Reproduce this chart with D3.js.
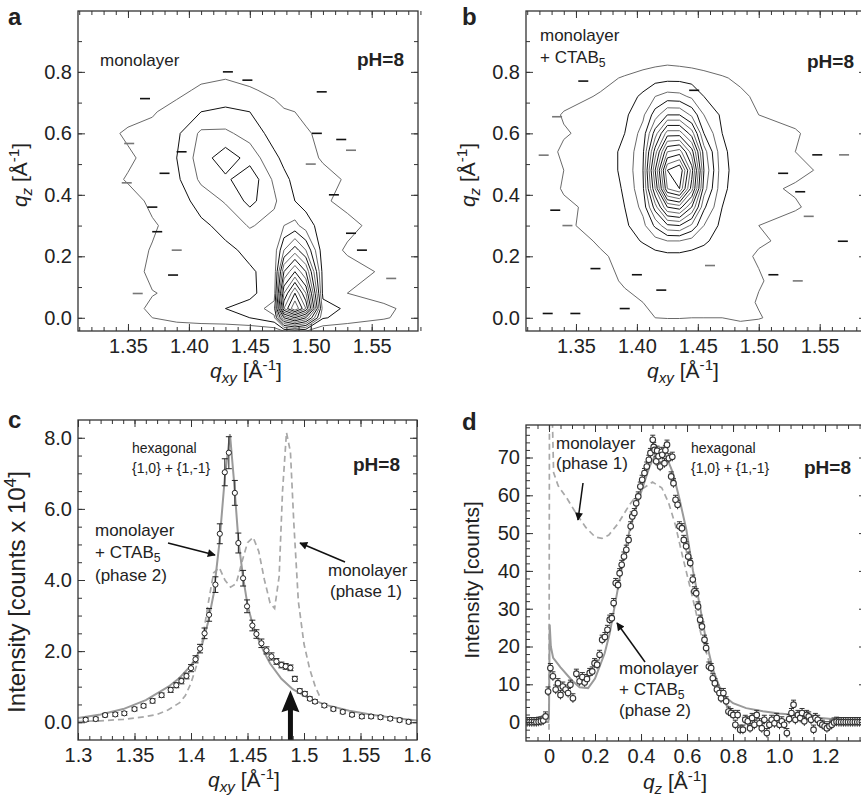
<!DOCTYPE html>
<html>
<head>
<meta charset="utf-8">
<script src="https://cdn.jsdelivr.net/npm/d3@7"></script>
<style>
  body { margin: 0; background: #fff; }
  svg { display: block; }
  text { font-family: "Liberation Sans", Arial, Helvetica, sans-serif; fill: #222; }
</style>
</head>
<body>
<div id="chart"></div>
<script>
// ---------- panel a : intensity map, monolayer (rows from bottom qz to top) ----------
const gridQxyA = [1.31, 1.35, 1.37, 1.39, 1.41, 1.43, 1.45, 1.47, 1.478, 1.487, 1.496, 1.51, 1.53, 1.56, 1.60];
const gridQzA = [-0.05, 0.0, 0.03, 0.08, 0.15, 0.22, 0.30, 0.38, 0.45, 0.52, 0.60, 0.67, 0.74, 0.80, 1.0];
const mapA = [
  [0, 0,   0,    0,   0,   0,   0,   0,   0,   0,   0,   0,   0,   0,   0  ],
  [0, 0.5, 1.0,  1.4, 1.6, 1.7, 2.0, 2.8, 8,   10,  8,   2.1, 1.6, 1.1, 0.3],
  [0, 0.6, 1.2,  1.6, 1.9, 2.0, 2.3, 3.5, 13,  16,  13,  2.5, 1.8, 1.2, 0.4],
  [0, 0.9, 0.95, 1.2, 1.3, 1.5, 1.8, 2.5, 11,  14,  11,  1.7, 1.0, 0.6, 0  ],
  [0, 0.4, 1.3,  1.2, 1.3, 1.5, 1.9, 2.3, 8,   10,  8,   1.6, 1.3, 0.9, 0  ],
  [0, 0.7, 1.05, 1.2, 1.4, 1.8, 2.2, 2.4, 5,   6.5, 5,   1.4, 0.9, 0.5, 0  ],
  [0, 0.3, 0.9,  1.3, 1.8, 2.3, 3.1, 2.6, 3.0, 3.3, 2.5, 1.5, 1.2, 0.7, 0  ],
  [0, 0.6, 1.2,  1.5, 2.4, 3.1, 4.3, 3.2, 2.4, 2.0, 1.6, 1.1, 0.8, 0.2, 0  ],
  [0, 1.1, 1.3,  1.8, 3.2, 3.8, 4.7, 2.8, 2.2, 1.8, 1.5, 1.3, 0.9, 0.3, 0  ],
  [0, 0.8, 1.4,  2.0, 3.5, 4.6, 3.6, 2.2, 1.8, 1.5, 1.3, 0.9, 0.5, 0,   0  ],
  [0, 1.2, 1.3,  1.8, 3.2, 3.2, 2.6, 1.6, 1.4, 1.2, 1.1, 0.8, 0.3, 0,   0  ],
  [0, 0.5, 0.9,  1.4, 2.0, 2.2, 2.0, 1.3, 1.1, 1.0, 0.8, 0.5, 0.1, 0,   0  ],
  [0, 0.2, 0.4,  0.7, 1.2, 1.3, 1.1, 0.8, 0.5, 0.4, 0.3, 0.1, 0,   0,   0  ],
  [0, 0,   0.1,  0.3, 0.6, 0.8, 0.6, 0.3, 0.2, 0.1, 0,   0,   0,   0,   0  ],
  [0, 0,   0,    0,   0,   0,   0,   0,   0,   0,   0,   0,   0,   0,   0  ]
];
const specksA = [[1.351, 0.567], [1.364, 0.713], [1.394, 0.54], [1.349, 0.439], [1.374, 0.28],
  [1.387, 0.139], [1.358, 0.079], [1.432, 0.80], [1.519, 0.40], [1.533, 0.545], [1.533, 0.275],
  [1.542, 0.22], [1.566, 0.128], [1.509, 0.735], [1.448, 0.773], [1.50, 0.5], [1.37, 0.36],
  [1.38, 0.47], [1.39, 0.22], [1.525, 0.58], [1.505, 0.6]];

// ---------- panel b : intensity map, monolayer + CTAB5 ----------
const gridQxyB = [1.31, 1.34, 1.37, 1.39, 1.405, 1.415, 1.425, 1.435, 1.445, 1.455, 1.47, 1.485, 1.50, 1.53, 1.56, 1.60];
const gridQzB = [-0.05, 0.0, 0.05, 0.12, 0.20, 0.25, 0.30, 0.36, 0.42, 0.48, 0.54, 0.60, 0.66, 0.72, 0.78, 0.84, 1.0];
const mapB = [
  [0, 0,   0,   0,   0,   0,   0,    0,    0,    0,   0,   0,   0,   0,   0,   0],
  [0, 0.1, 0.3, 0.6, 0.9, 1.0, 1.05, 1.05, 1.0,  1.0, 1.0, 1.3, 1.1, 0.2, 0,   0],
  [0, 0.2, 0.5, 0.8, 1.0, 1.1, 1.1,  1.1,  1.1,  1.1, 1.0, 1.4, 0.9, 0.3, 0,   0],
  [0, 0.3, 0.7, 1.1, 1.1, 1.2, 1.2,  1.2,  1.2,  1.1, 1.1, 1.3, 1.1, 0.4, 0,   0],
  [0, 0.4, 0.9, 1.2, 1.4, 1.6, 1.7,  1.7,  1.6,  1.5, 1.3, 1.2, 0.9, 0.5, 0.1, 0],
  [0, 0.6, 1.1, 1.5, 2.1, 2.6, 3.0,  3.0,  2.6,  2.2, 1.5, 1.3, 1.1, 0.8, 0.2, 0],
  [0, 0.9, 1.2, 1.8, 2.7, 4.2, 5.8,  6.0,  4.8,  3.0, 1.7, 1.3, 1.0, 0.6, 0.3, 0],
  [0, 0.8, 1.3, 2.0, 3.3, 6.5, 10,   10.5, 8,    4.2, 2.0, 1.4, 1.1, 1.1, 0.5, 0],
  [0, 1.1, 1.4, 2.1, 3.8, 9,   15,   16,   11.5, 5.5, 2.2, 1.5, 1.2, 0.9, 0.6, 0],
  [0, 1.0, 1.5, 2.2, 4.0, 10,  16,   17,   12.5, 6,   2.3, 1.5, 1.2, 1.2, 0.8, 0],
  [0, 1.2, 1.5, 2.2, 3.8, 8.5, 13,   13.5, 10.5, 5.5, 2.2, 1.5, 1.2, 1.0, 0.6, 0],
  [0, 0.9, 1.4, 2.0, 3.4, 6.5, 9.5,  9.5,  7.5,  4.0, 2.0, 1.4, 1.1, 1.1, 0.4, 0],
  [0, 1.1, 1.3, 1.8, 2.8, 4.5, 6.0,  6.0,  4.8,  3.0, 1.8, 1.3, 1.0, 0.7, 0.2, 0],
  [0, 0.6, 1.1, 1.5, 2.2, 3.0, 3.4,  3.3,  2.8,  2.0, 1.6, 1.2, 0.8, 0.4, 0.1, 0],
  [0, 0.3, 0.7, 1.1, 1.4, 1.6, 1.7,  1.7,  1.6,  1.4, 1.1, 0.8, 0.5, 0.2, 0,   0],
  [0, 0,   0.2, 0.3, 0.5, 0.6, 0.7,  0.6,  0.5,  0.4, 0.3, 0.2, 0.1, 0,   0,   0],
  [0, 0,   0,   0,   0,   0,   0,    0,    0,    0,   0,   0,   0,   0,   0,   0]
];
const specksB = [[1.3235, 0.529], [1.3495, 0.014], [1.3268, 0.014], [1.3345, 0.654], [1.333, 0.35],
  [1.548, 0.53], [1.541, 0.33], [1.534, 0.41], [1.512, 0.14], [1.532, 0.12], [1.569, 0.249],
  [1.366, 0.16], [1.343, 0.30], [1.356, 0.77], [1.447, 0.74], [1.57, 0.53], [1.40, 0.14],
  [1.42, 0.09], [1.46, 0.17], [1.52, 0.47], [1.39, 0.03]];

const contourLevels = d3.range(1, 17);

// ---------- panel c : qxy cut ----------
const qxyC = [1.3068, 1.3157, 1.324, 1.333, 1.341, 1.350, 1.358, 1.366, 1.374, 1.382, 1.387, 1.3915, 1.396,
  1.400, 1.404, 1.408, 1.412, 1.416, 1.4216, 1.4255, 1.4299, 1.4335, 1.4388, 1.4419, 1.4461, 1.4496, 1.4543,
  1.4579, 1.4623, 1.4668, 1.4712, 1.4756, 1.4800, 1.4838, 1.4880, 1.4919, 1.4963, 1.5008, 1.5052, 1.5097,
  1.5180, 1.5260, 1.5343, 1.5425, 1.5512, 1.5594, 1.5677, 1.5763, 1.5846, 1.5926];
const intC = [0.07, 0.09, 0.20, 0.22, 0.25, 0.37, 0.46, 0.60, 0.76, 0.91, 1.04, 1.16, 1.30,
  1.52, 1.77, 2.07, 2.50, 3.02, 3.87, 5.30, 7.03, 7.58, 6.45, 5.04, 4.05, 3.26, 2.72,
  2.48, 2.22, 2.02, 1.85, 1.71, 1.61, 1.57, 1.53, 1.22, 0.88, 0.80, 0.66, 0.58,
  0.47, 0.37, 0.29, 0.21, 0.16, 0.16, 0.14, 0.10, 0.06, 0.01];
const errC = [0.05, 0.05, 0.05, 0.05, 0.05, 0.05, 0.05, 0.06, 0.06, 0.07, 0.07, 0.08, 0.08,
  0.10, 0.10, 0.12, 0.15, 0.18, 0.22, 0.28, 0.38, 0.45, 0.35, 0.28, 0.22, 0.18, 0.15,
  0.12, 0.12, 0.10, 0.10, 0.08, 0.08, 0.08, 0.08, 0.07, 0.06, 0.06, 0.05, 0.05,
  0.05, 0.05, 0.05, 0.05, 0.05, 0.05, 0.05, 0.05, 0.05, 0.05];
const fitQxyC = [1.30, 1.32, 1.34, 1.36, 1.38, 1.39, 1.40, 1.405, 1.41, 1.415, 1.42, 1.425, 1.43, 1.4345,
  1.438, 1.442, 1.446, 1.45, 1.455, 1.46, 1.465, 1.47, 1.48, 1.49, 1.50, 1.51, 1.52, 1.54, 1.56, 1.58, 1.60];
const fitIntC = [0.12, 0.22, 0.37, 0.62, 1.0, 1.25, 1.6, 1.85, 2.2, 2.8, 3.6, 5.0, 6.9, 8.1,
  6.8, 5.1, 4.1, 3.3, 2.7, 2.3, 1.95, 1.65, 1.22, 0.93, 0.75, 0.6, 0.48, 0.32, 0.21, 0.12, 0.05];
const phase1QxyC = [1.30, 1.32, 1.34, 1.36, 1.37, 1.38, 1.39, 1.395, 1.40, 1.405, 1.41, 1.415, 1.42, 1.425,
  1.43, 1.435, 1.44, 1.445, 1.45, 1.455, 1.46, 1.465, 1.47, 1.474, 1.478, 1.481, 1.4845, 1.488, 1.491,
  1.495, 1.50, 1.505, 1.51, 1.515];
const phase1IntC = [0.02, 0.04, 0.08, 0.16, 0.22, 0.35, 0.55, 0.75, 1.1, 1.6, 2.3, 3.3, 4.2, 4.35,
  4.0, 3.8, 3.9, 4.5, 5.05, 5.2, 4.8, 4.0, 3.35, 3.2, 4.1, 6.5, 8.15, 7.6, 5.6,
  3.4, 2.2, 1.5, 1.0, 0.65];

// ---------- panel d : qz cut ----------
const pointsD = [[-0.095, 0], [-0.085, 0], [-0.075, 0], [-0.065, 0], [-0.055, 0], [-0.045, 0.1], [-0.035, 0.2],
  [-0.025, 0.4], [-0.015, 1.5], [-0.004, 8.1], [0.006, 14.3], [0.017, 12.1], [0.029, 8.6], [0.039, 10.3],
  [0.05, 7.2], [0.06, 9.4], [0.072, 8.6], [0.083, 7.7], [0.093, 9.9], [0.104, 6.3], [0.119, 12.8],
  [0.133, 10.8], [0.145, 11.9], [0.155, 10.5], [0.165, 11.4], [0.177, 13], [0.188, 13.4], [0.198, 15.6],
  [0.209, 15.2], [0.22, 17.8], [0.231, 21.8], [0.243, 22.5], [0.254, 24.4], [0.264, 27.1], [0.273, 27.5],
  [0.281, 31.5], [0.29, 36.8], [0.3, 36.3], [0.307, 39.4], [0.316, 41.6], [0.326, 43.8], [0.336, 45.6],
  [0.346, 48.2], [0.355, 51.8], [0.362, 54.4], [0.371, 55.3], [0.379, 57.9], [0.388, 59.7], [0.397, 62.3],
  [0.405, 64.1], [0.415, 65.9], [0.425, 67.6], [0.434, 69.4], [0.441, 71.2], [0.451, 74.7], [0.455, 72.8],
  [0.459, 72.0], [0.466, 69.0], [0.47, 71.8], [0.476, 70.3], [0.483, 67.6], [0.49, 71.5], [0.492, 70.7],
  [0.502, 68.5], [0.506, 71.9], [0.513, 73.4], [0.521, 69.8], [0.531, 65], [0.536, 70.2], [0.541, 63.2],
  [0.55, 58.8], [0.559, 57.5], [0.567, 51.8], [0.578, 51.3], [0.586, 48.2], [0.596, 46.5], [0.605, 43.8],
  [0.614, 42.1], [0.625, 37.7], [0.632, 34.6], [0.64, 34.1], [0.648, 30.6], [0.657, 27.1], [0.665, 25.3],
  [0.676, 21.8], [0.683, 19.6], [0.695, 14.7], [0.705, 14.3], [0.712, 11.6], [0.721, 10.3], [0.73, 8.6],
  [0.741, 7.7], [0.748, 6.3], [0.758, 7.7], [0.77, 5.5], [0.78, 2.8], [0.791, 2.4], [0.801, 1.9],
  [0.81, -0.7], [0.82, 1.9], [0.831, -2.0], [0.843, -2.0], [0.853, 0.6], [0.864, 0.2], [0.874, -1.6],
  [0.883, 1.1], [0.893, -0.7], [0.903, 1.9], [0.915, -0.3], [0.925, -1.6], [0.936, 0.6], [0.947, -2.9],
  [0.958, -0.7], [0.968, 0.6], [0.98, -0.3], [0.99, 1.1], [1.002, -0.7], [1.012, 0.2], [1.022, -0.7],
  [1.034, -2.9], [1.044, 0.8], [1.054, 2.4], [1.063, 4.6], [1.071, 0.6], [1.082, 1.9], [1.092, 1.1],
  [1.1, 2.4], [1.11, 0.2], [1.12, 1.9], [1.129, 1.5], [1.139, 0.6], [1.15, -2.0], [1.158, 1.1],
  [1.168, 0.6], [1.178, -0.3], [1.188, -0.7], [1.198, -1.1], [1.208, -1.6], [1.219, -1.1], [1.229, -0.7],
  [1.239, -0.1], [1.25, 0.1], [1.26, 0], [1.27, 0], [1.28, 0], [1.29, 0], [1.30, 0], [1.31, 0], [1.32, 0],
  [1.33, 0], [1.34, 0], [1.35, 0], [1.36, 0], [1.37, 0]];
const errD = 1.2;
const fitD = [[-0.1, 0], [-0.003, 0], [0.0, 2], [0.003, 25.8], [0.008, 20], [0.018, 17], [0.05, 14.5],
  [0.1, 11], [0.133, 9.2], [0.17, 9.0], [0.2, 11.5], [0.242, 18.2], [0.264, 23.5], [0.293, 33.2],
  [0.322, 42.9], [0.351, 50.9], [0.38, 57], [0.408, 62.3], [0.437, 67.6], [0.46, 70.5], [0.48, 71.2],
  [0.51, 70.3], [0.539, 65.9], [0.568, 58.8], [0.597, 50.9], [0.626, 40], [0.655, 31], [0.683, 21.5],
  [0.712, 14], [0.74, 9.5], [0.77, 6.5], [0.8, 5.0], [0.857, 3.7], [0.93, 2.9], [1.0, 2.3], [1.074, 1.9],
  [1.15, 1.3], [1.25, 0.7], [1.38, 0.3]];
const phase1D = [[0.0, -2], [0.002, 82], [0.014, 82], [0.02, 66], [0.04, 62.5], [0.08, 59], [0.12, 55],
  [0.16, 51.5], [0.2, 49], [0.23, 48.6], [0.26, 49.5], [0.3, 52.5], [0.35, 57.5], [0.4, 61.5], [0.45, 63.5],
  [0.49, 62], [0.52, 58], [0.55, 52], [0.58, 44], [0.62, 34], [0.66, 23.5], [0.7, 15], [0.74, 8.5],
  [0.78, 4], [0.82, 1.8], [0.86, 0.8], [0.92, 0.4], [1.0, 0.3]];

// ---------- layout ----------
const W = 861, H = 796;
const svg = d3.select("#chart").append("svg").attr("width", W).attr("height", H);
const defs = svg.append("defs");
defs.append("marker").attr("id", "ah")
    .attr("viewBox", "0 0 10 10").attr("refX", 9).attr("refY", 5)
    .attr("markerWidth", 12).attr("markerHeight", 8)
    .attr("markerUnits", "userSpaceOnUse").attr("orient", "auto")
  .append("path").attr("d", "M0,0L10,5L0,10Z").attr("fill", "#111");

const panels = {
  a: {left: 78,  top: 11,  w: 340, h: 320},
  b: {left: 526, top: 11,  w: 340, h: 320},
  c: {left: 78,  top: 420, w: 339, h: 320},
  d: {left: 526, top: 425, w: 340, h: 316}
};

// rich text with sub / superscripts
function rich(sel, parts, size) {
  let shift = 0;
  parts.forEach(p => {
    let target = 0, fs = size;
    if (p.sub) { target = size * 0.22; fs = size * 0.72; }
    if (p.sup) { target = -size * 0.36; fs = size * 0.72; }
    const ts = sel.append("tspan").text(p.t).attr("font-size", fs).attr("dy", target - shift);
    if (p.it) ts.attr("font-style", "italic");
    shift = target;
  });
  return sel;
}

function addText(x, y, parts, size, opts = {}) {
  const t = svg.append("text").attr("x", x).attr("y", y).attr("font-size", size);
  if (opts.anchor) t.attr("text-anchor", opts.anchor);
  if (opts.bold) t.attr("font-weight", "bold");
  if (opts.rotate) t.attr("transform", `rotate(-90,${x},${y})`).attr("dy", "0.35em");
  if (typeof parts === "string") t.text(parts); else rich(t, parts, size);
  return t;
}

function setupPanel(key, xDomain, yDomain) {
  const p = panels[key];
  const g = svg.append("g").attr("transform", `translate(${p.left},${p.top})`);
  const x = d3.scaleLinear().domain(xDomain).range([0, p.w]);
  const y = d3.scaleLinear().domain(yDomain).range([p.h, 0]);
  defs.append("clipPath").attr("id", "clip-" + key)
    .append("rect").attr("width", p.w).attr("height", p.h);
  const plot = g.append("g").attr("clip-path", `url(#clip-${key})`);
  return {g, plot, x, y, p};
}

function frame(P, xt, yt) {
  const {g, x, y, p} = P;
  const style = s => { s.select(".domain").remove(); s.selectAll("line").attr("stroke", "#333");
    s.selectAll("text").attr("font-size", 20).attr("font-family", null).attr("fill", "#222"); };
  g.append("g").attr("transform", `translate(0,${p.h})`)
    .call(d3.axisBottom(x).tickValues(xt.minor).tickSize(-4).tickFormat("")).call(style);
  g.append("g").attr("transform", `translate(0,${p.h})`)
    .call(d3.axisBottom(x).tickValues(xt.major).tickSize(-7).tickPadding(8).tickFormat(xt.fmt)).call(style);
  g.append("g").call(d3.axisTop(x).tickValues(xt.minor).tickSize(-4).tickFormat("")).call(style);
  g.append("g").call(d3.axisTop(x).tickValues(xt.major).tickSize(-7).tickFormat("")).call(style);
  g.append("g").call(d3.axisLeft(y).tickValues(yt.minor).tickSize(-4).tickFormat("")).call(style);
  g.append("g").call(d3.axisLeft(y).tickValues(yt.major).tickSize(-7).tickPadding(6).tickFormat(yt.fmt)).call(style);
  g.append("g").attr("transform", `translate(${p.w},0)`)
    .call(d3.axisRight(y).tickValues(yt.minor).tickSize(-4).tickFormat("")).call(style);
  g.append("g").attr("transform", `translate(${p.w},0)`)
    .call(d3.axisRight(y).tickValues(yt.major).tickSize(-7).tickFormat("")).call(style);
  g.append("rect").attr("width", p.w).attr("height", p.h)
    .attr("fill", "none").attr("stroke", "#333").attr("stroke-width", 1.3);
}

function steps(a, b, s) {
  const out = [];
  const n = Math.round((b - a) / s);
  for (let i = 0; i <= n; i++) out.push(+(a + i * s).toFixed(4));
  return out;
}

function drawContours(P, gridX, gridY, map, levels, specks) {
  const {plot, x, y} = P;
  const nx = gridX.length, ny = gridY.length;
  const values = [];
  map.forEach(row => row.forEach(v => values.push(v)));
  const gx = d3.scaleLinear().domain(d3.range(nx)).range(gridX);
  const gy = d3.scaleLinear().domain(d3.range(ny)).range(gridY);
  const proj = d3.geoTransform({
    point(px, py) { this.stream.point(x(gx(px - 0.5)), y(gy(py - 0.5))); }
  });
  const path = d3.geoPath(proj);
  const contours = d3.contours().size([nx, ny]).thresholds(levels)(values);
  plot.selectAll("path.contour").data(contours).join("path")
    .attr("class", "contour")
    .attr("d", path)
    .attr("fill", "none")
    .attr("stroke", (d, i) => i % 2 === 0 ? "#6a6a6a" : "#111")
    .attr("stroke-width", 1);
  plot.selectAll("line.speck").data(specks).join("line")
    .attr("class", "speck")
    .attr("x1", d => x(d[0]) - 5).attr("x2", d => x(d[0]) + 5)
    .attr("y1", d => y(d[1])).attr("y2", d => y(d[1]))
    .attr("stroke", (d, i) => i % 3 === 0 ? "#777" : "#111").attr("stroke-width", 1.6);
}

// ---------- panels a, b ----------
const qxyTicks = {major: steps(1.35, 1.55, 0.05), minor: steps(1.31, 1.59, 0.01), fmt: d3.format(".2f")};
const qzTicks = {major: steps(0, 0.8, 0.2), minor: steps(0, 0.9, 0.1), fmt: d3.format(".1f")};

const A = setupPanel("a", [1.309, 1.588], [-0.043, 0.998]);
drawContours(A, gridQxyA, gridQzA, mapA, contourLevels, specksA);
frame(A, qxyTicks, qzTicks);

const B = setupPanel("b", [1.309, 1.588], [-0.043, 0.998]);
drawContours(B, gridQxyB, gridQzB, mapB, contourLevels, specksB);
frame(B, qxyTicks, qzTicks);

// ---------- panel c ----------
const C = setupPanel("c", [1.3, 1.6], [-0.5, 8.5]);
const lineC = d3.line().x(d => C.x(d[0])).y(d => C.y(d[1]));
C.plot.append("path").datum(phase1QxyC.map((q, i) => [q, phase1IntC[i]]))
  .attr("d", lineC).attr("fill", "none").attr("stroke", "#a8a8a8")
  .attr("stroke-width", 1.7).attr("stroke-dasharray", "6,4");
C.plot.append("path").datum(fitQxyC.map((q, i) => [q, fitIntC[i]]))
  .attr("d", lineC).attr("fill", "none").attr("stroke", "#9a9a9a").attr("stroke-width", 2);
const ptsC = qxyC.map((q, i) => ({q, v: intC[i], e: errC[i]}));
const ebC = C.plot.selectAll("g.eb").data(ptsC).join("g").attr("class", "eb");
ebC.append("line").attr("x1", d => C.x(d.q)).attr("x2", d => C.x(d.q))
  .attr("y1", d => C.y(d.v - d.e)).attr("y2", d => C.y(d.v + d.e)).attr("stroke", "#222");
ebC.append("line").attr("x1", d => C.x(d.q) - 3).attr("x2", d => C.x(d.q) + 3)
  .attr("y1", d => C.y(d.v + d.e)).attr("y2", d => C.y(d.v + d.e)).attr("stroke", "#222");
ebC.append("line").attr("x1", d => C.x(d.q) - 3).attr("x2", d => C.x(d.q) + 3)
  .attr("y1", d => C.y(d.v - d.e)).attr("y2", d => C.y(d.v - d.e)).attr("stroke", "#222");
C.plot.selectAll("circle").data(ptsC).join("circle")
  .attr("cx", d => C.x(d.q)).attr("cy", d => C.y(d.v)).attr("r", 2.6)
  .attr("fill", "#fff").attr("stroke", "#222").attr("stroke-width", 1);
// big arrow marking the phase 1 position
const arrowQ = 1.488, arrowTip = 0.9;
const ax0 = C.x(arrowQ), ay0 = C.y(arrowTip), ayB = C.p.h;
C.plot.append("path")
  .attr("d", `M${ax0},${ay0}L${ax0 + 9},${ay0 + 22}L${ax0 + 2.5},${ay0 + 20}L${ax0 + 2.5},${ayB}` +
             `L${ax0 - 2.5},${ayB}L${ax0 - 2.5},${ay0 + 20}L${ax0 - 9},${ay0 + 22}Z`)
  .attr("fill", "#111");
frame(C, {major: steps(1.3, 1.6, 0.05), minor: steps(1.3, 1.6, 0.01), fmt: d3.format("")},
         {major: steps(0, 8, 2), minor: steps(0, 8, 0.5), fmt: d3.format(".1f")});

// ---------- panel d ----------
const D = setupPanel("d", [-0.1, 1.378], [-5, 78.6]);
const lineD = d3.line().x(d => D.x(d[0])).y(d => D.y(d[1]));
D.plot.append("path").datum(phase1D).attr("d", lineD).attr("fill", "none")
  .attr("stroke", "#a8a8a8").attr("stroke-width", 1.7).attr("stroke-dasharray", "6,4");
D.plot.append("path").datum(fitD).attr("d", lineD).attr("fill", "none")
  .attr("stroke", "#9a9a9a").attr("stroke-width", 2);
const ebD = D.plot.selectAll("g.eb").data(pointsD).join("g").attr("class", "eb");
ebD.append("line").attr("x1", d => D.x(d[0])).attr("x2", d => D.x(d[0]))
  .attr("y1", d => D.y(d[1] - errD)).attr("y2", d => D.y(d[1] + errD)).attr("stroke", "#333");
ebD.append("line").attr("x1", d => D.x(d[0]) - 2.5).attr("x2", d => D.x(d[0]) + 2.5)
  .attr("y1", d => D.y(d[1] + errD)).attr("y2", d => D.y(d[1] + errD)).attr("stroke", "#333");
D.plot.selectAll("circle").data(pointsD).join("circle")
  .attr("cx", d => D.x(d[0])).attr("cy", d => D.y(d[1])).attr("r", 2.8)
  .attr("fill", "#fff").attr("stroke", "#333").attr("stroke-width", 1.1);
frame(D, {major: steps(0, 1.2, 0.2), minor: steps(-0.05, 1.35, 0.05), fmt: d => d === 0 ? "0" : d3.format(".1f")(d)},
         {major: steps(0, 70, 10), minor: steps(-4, 78, 2), fmt: d3.format("d")});

// ---------- texts ----------
const qzTitle = [{t: "q", it: true}, {t: "z", sub: true, it: true}, {t: " [Å"}, {t: "-1", sup: true}, {t: "]"}];
const qxyTitle = [{t: "q", it: true}, {t: "xy", sub: true, it: true}, {t: " [Å"}, {t: "-1", sup: true}, {t: "]"}];

addText(8, 25, "a", 24, {bold: true});
addText(462, 25, "b", 24, {bold: true});
addText(8, 428, "c", 24, {bold: true});
addText(462, 430, "d", 24, {bold: true});

addText(27, 175, qzTitle, 21, {anchor: "middle", rotate: true});
addText(475, 175, qzTitle, 21, {anchor: "middle", rotate: true});
addText(246, 378, qxyTitle, 21, {anchor: "middle"});
addText(683, 378, qxyTitle, 21, {anchor: "middle"});
addText(244, 787, qxyTitle, 21, {anchor: "middle"});
addText(675, 789, qzTitle, 21, {anchor: "middle"});
addText(25, 592, [{t: "Intensity [counts x 10"}, {t: "4", sup: true}, {t: "]"}], 24, {anchor: "middle", rotate: true});
addText(472, 580, "Intensity [counts]", 21, {anchor: "middle", rotate: true});

addText(100, 66, "monolayer", 17);
addText(357, 66, "pH=8", 19, {bold: true});
addText(540, 41, "monolayer", 17);
addText(540, 63, [{t: "+ CTAB"}, {t: "5", sub: true}], 17);
addText(807, 68, "pH=8", 19, {bold: true});

addText(132, 453, "hexagonal", 14);
addText(132, 473, "{1,0} + {1,-1}", 14);
addText(353, 471, "pH=8", 19, {bold: true});
addText(95, 536, "monolayer", 17);
addText(95, 558, [{t: "+ CTAB"}, {t: "5", sub: true}], 17);
addText(95, 581, "(phase 2)", 17);
addText(328, 576, "monolayer", 17);
addText(330, 597, "(phase 1)", 17);

addText(556, 449, "monolayer", 17);
addText(556, 469, "(phase 1)", 17);
addText(691, 453, "hexagonal", 14);
addText(691, 473, "{1,0} + {1,-1}", 14);
addText(804, 474, "pH=8", 19, {bold: true});
addText(619, 674, "monolayer", 17);
addText(619, 695, [{t: "+ CTAB"}, {t: "5", sub: true}], 17);
addText(619, 716, "(phase 2)", 17);

// thin annotation arrows
const arrows = [[168, 543, 215, 555], [345, 562, 300, 543], [583, 483, 578, 520], [645, 662, 617, 623]];
svg.selectAll("line.arrow").data(arrows).join("line").attr("class", "arrow")
  .attr("x1", d => d[0]).attr("y1", d => d[1]).attr("x2", d => d[2]).attr("y2", d => d[3])
  .attr("stroke", "#111").attr("stroke-width", 1.5).attr("marker-end", "url(#ah)");
</script>
</body>
</html>
